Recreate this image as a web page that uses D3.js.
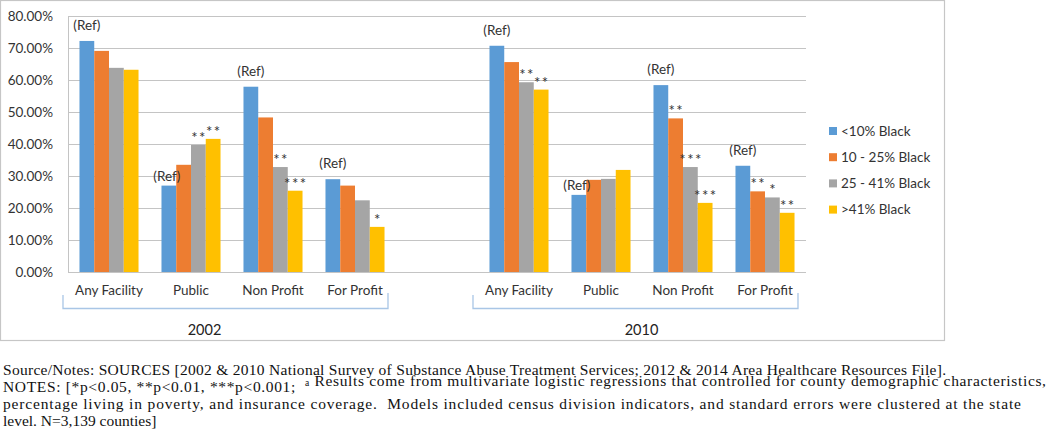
<!DOCTYPE html>
<html>
<head>
<meta charset="utf-8">
<script src="https://cdn.jsdelivr.net/npm/d3@7"></script>
<style>
  html, body { margin: 0; padding: 0; background: #fff; }
  svg { display: block; }
  .note { white-space: pre; }
</style>
</head>
<body>
<div id="chart"></div>
<script>
// ---------------- DATA ----------------
const years = ["2002", "2010"];
const categories = ["Any Facility", "Public", "Non Profit", "For Profit"];
const seriesNames = ["<10% Black", "10 - 25% Black", "25 - 41% Black", ">41% Black"];
const yTicks = [0, 10, 20, 30, 40, 50, 60, 70, 80];

// values (%) in order: 2002 Any, Public, NonProfit, ForProfit, 2010 Any, Public, NonProfit, ForProfit
const valuesLt10   = [72.2, 27.0, 57.9, 29.0, 70.7, 24.1, 58.4, 33.2];
const values10to25 = [69.1, 33.5, 48.3, 27.0, 65.6, 28.8, 48.0, 25.2];
const values25to41 = [63.8, 39.7, 32.8, 22.4, 59.3, 29.1, 32.8, 23.3];
const valuesGt41   = [63.2, 41.6, 25.4, 14.1, 57.0, 31.9, 21.6, 18.5];

const labelsLt10   = ["(Ref)", "(Ref)", "(Ref)", "(Ref)", "(Ref)", "(Ref)", "(Ref)", "(Ref)"];
const labels10to25 = ["", "", "", "", "", "", "**", "**"];
const labels25to41 = ["", "**", "**", "", "**", "", "***", "*"];
const labelsGt41   = ["", "**", "***", "*", "**", "", "***", "**"];

const noteLines = [
  "Source/Notes: SOURCES [2002 & 2010 National Survey of Substance Abuse Treatment Services; 2012 & 2014 Area Healthcare Resources File].",
  "NOTES: [*p<0.05, **p<0.01, ***p<0.001;  |a| Results come from multivariate logistic regressions that controlled for county demographic characteristics,",
  "percentage living in poverty, and insurance coverage.  Models included census division indicators, and standard errors were clustered at the state",
  "level. N=3,139 counties]"
];

// ---------------- LAYOUT ----------------
const W = 1050, H = 440;
const colors = ["#5B9BD5", "#ED7D31", "#A5A5A5", "#FFC000"];
const allValues = [valuesLt10, values10to25, values25to41, valuesGt41];
const allLabels = [labelsLt10, labels10to25, labels25to41, labelsGt41];
const font = "Lato, 'Open Sans', sans-serif";
const textColor = "#333333";

const svg = d3.select("#chart").append("svg").attr("width", W).attr("height", H);

// chart border
svg.append("rect").attr("x", 0.5).attr("y", 0.5).attr("width", 944).attr("height", 340)
  .attr("fill", "#fff").attr("stroke", "#c6c6c6").attr("stroke-width", 1.2);

// slots: 4 categories per year with a blank slot between years
const slots = [];
years.forEach((yr, yi) => {
  if (yi > 0) slots.push("gap" + yi);
  categories.forEach((c, ci) => slots.push(yr + "|" + ci));
});

const x0 = d3.scaleBand().domain(slots).range([68, 806]).paddingInner(0.28).paddingOuter(0.14);
const x1 = d3.scaleBand().domain(seriesNames).range([0, x0.bandwidth()]);
const y = d3.scaleLinear().domain([0, 80]).range([272, 16]);

// gridlines
svg.append("g").selectAll("line").data(yTicks.filter(d => d > 0)).join("line")
  .attr("x1", 68).attr("x2", 806)
  .attr("y1", d => Math.round(y(d)) + 0.5).attr("y2", d => Math.round(y(d)) + 0.5)
  .attr("stroke", "#c4c4c4").attr("stroke-width", 1);

// y axis
const yAxis = svg.append("g").attr("transform", "translate(68,0)")
  .call(d3.axisLeft(y).tickValues(yTicks).tickFormat(d => d.toFixed(2) + "%").tickSize(0).tickPadding(15));
yAxis.select(".domain").remove();
yAxis.selectAll("text").attr("font-family", font).attr("font-size", 13.5).attr("fill", textColor);

// bars
const rows = [];
years.forEach((yr, yi) => categories.forEach((c, ci) => {
  const idx = yi * categories.length + ci;
  seriesNames.forEach((s, si) => {
    rows.push({ slot: yr + "|" + ci, series: s, si, idx, value: allValues[si][idx], label: allLabels[si][idx] });
  });
}));

svg.append("g").selectAll("rect").data(rows).join("rect")
  .attr("x", d => x0(d.slot) + x1(d.series))
  .attr("y", d => y(d.value))
  .attr("width", x1.bandwidth())
  .attr("height", d => y(0) - y(d.value))
  .attr("fill", d => colors[d.si]);

// axis lines
svg.append("line").attr("x1", 68.5).attr("x2", 68.5).attr("y1", y(80)).attr("y2", y(0))
  .attr("stroke", "#c4c4c4");
svg.append("line").attr("x1", 68).attr("x2", 806).attr("y1", Math.round(y(0)) + 0.5).attr("y2", Math.round(y(0)) + 0.5)
  .attr("stroke", "#c4c4c4");

// data labels
svg.append("g").selectAll("text").data(rows.filter(d => d.label)).join("text")
  .attr("x", d => {
    let cx = x0(d.slot) + x1(d.series) + x1.bandwidth() / 2;
    if (d.label === "(Ref)") {
      const nextV = allValues[1][d.idx];
      if (nextV > d.value) cx -= 2;
    } else {
      cx += 0.7;
    }
    return cx;
  })
  .attr("y", d => {
    const top = y(d.value);
    if (d.label === "(Ref)") {
      const nextV = allValues[1][d.idx];
      return nextV > d.value ? top - 5 : top - 11;
    }
    return top - 2;
  })
  .attr("text-anchor", "middle")
  .attr("font-family", font).attr("font-size", d => d.label === "(Ref)" ? 13.5 : 15)
  .attr("letter-spacing", d => d.label === "(Ref)" ? 0 : 1.5)
  .attr("fill", textColor)
  .text(d => d.label);

// category labels
svg.append("g").selectAll("text").data(slots.filter(s => !s.startsWith("gap"))).join("text")
  .attr("x", s => x0(s) + x0.bandwidth() / 2)
  .attr("y", 295)
  .attr("text-anchor", "middle")
  .attr("font-family", font).attr("font-size", 13.5).attr("fill", textColor)
  .text(s => categories[+s.split("|")[1]]);

// year brackets and labels
const yearLabelShift = [-21, 6];
years.forEach((yr, yi) => {
  const first = yr + "|0", last = yr + "|" + (categories.length - 1);
  const step = x0.step();
  const left = x0(first) - x0.paddingOuter() * step - 5;
  const right = x0(last) + x0.bandwidth() + x0.paddingOuter() * step - 8;
  const by = 308.5;
  svg.append("path")
    .attr("d", `M${left},${295}V${by}H${right}V${293}`)
    .attr("fill", "none").attr("stroke", "#a9c6e6").attr("stroke-width", 1.3);
  svg.append("text")
    .attr("x", (left + right) / 2 + yearLabelShift[yi]).attr("y", 335)
    .attr("text-anchor", "middle")
    .attr("font-family", font).attr("font-size", 14.5).attr("fill", "#222")
    .text(yr);
});

// legend
const lg = svg.append("g");
seriesNames.forEach((s, i) => {
  const cy = 131 + i * 26.2;
  lg.append("rect").attr("x", 829).attr("y", cy - 4).attr("width", 8).attr("height", 8).attr("fill", colors[i]);
  lg.append("text").attr("x", 841).attr("y", cy + 4.8)
    .attr("font-family", font).attr("font-size", 13.5).attr("fill", textColor).text(s);
});

// notes
const notes = svg.append("g").attr("font-family", "'Liberation Serif', 'Times New Roman', serif").attr("fill", "#111");
const noteEls = noteLines.map((line, i) => {
  const t = notes.append("text").attr("class", "note").attr("x", 3).attr("y", 374.5 + i * 17.2).attr("font-size", 15.5);
  line.split("|").forEach((part, pi) => {
    if (pi % 2 === 1) {
      t.append("tspan").attr("class", "sup").attr("font-size", 9.5).attr("dy", -6).text(part);
      t.append("tspan").attr("dy", 6).text("");
    } else {
      t.append("tspan").text(part);
    }
  });
  return t;
});
// fit each long line to the width it spans in the reference
const targets = [943, 1043, 1018, null];
noteEls.forEach((t, i) => {
  if (targets[i]) {
    const len = t.node().getComputedTextLength();
    const ratio = targets[i] / len;
    if (ratio < 1) t.attr("font-size", 15.5 * Math.max(ratio, 0.97));
    t.attr("textLength", targets[i]).attr("lengthAdjust", "spacing");
  }
});
</script>
</body>
</html>
